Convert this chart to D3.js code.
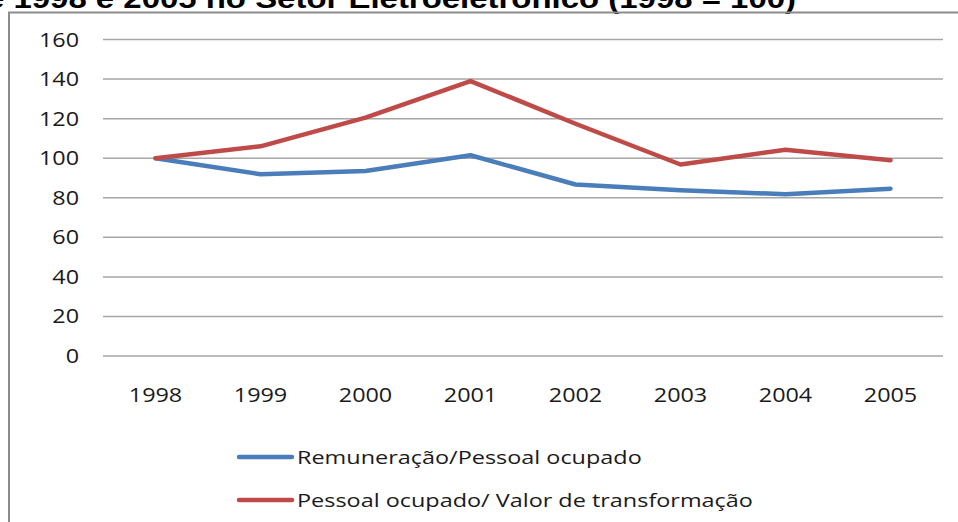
<!DOCTYPE html>
<html>
<head>
<meta charset="utf-8">
<script src="https://cdn.jsdelivr.net/npm/d3@7"></script>
<style>
  body { margin: 0; background: #fff; }
  svg { display: block; }
  .tick-label { font-family: "Open Sans", sans-serif; font-size: 20px; fill: #1a1a1a; }
  .legend-text { font-family: "Open Sans", sans-serif; font-size: 18.6px; fill: #1a1a1a; }
  .title { font-family: "Liberation Sans", Arial, sans-serif; font-size: 27px; font-weight: bold; fill: #000; }
</style>
</head>
<body>
<div id="chart"></div>
<script>
var years = ['1998', '1999', '2000', '2001', '2002', '2003', '2004', '2005'];
var remuneracao = [100, 91.9, 93.5, 101.5, 86.7, 83.8, 81.8, 84.6];
var valorTransf = [100, 106, 120.5, 139, 117.4, 96.8, 104.3, 99];
var yTicks = [0, 20, 40, 60, 80, 100, 120, 140, 160];
var seriesNames = ['Remuneração/Pessoal ocupado', 'Pessoal ocupado/ Valor de transformação'];
var seriesColors = ['#4a7ebb', '#be4b48'];

var svgWidth = 958,
	svgHeight = 522;

var margin = { t: 39.5, l: 103, r: 15 };
var plotBottom = 356;
// the source picture is stretched sideways, so text gets a wider x scale
var stretch = 1.17;

var svg = d3.select('#chart')
	.append('svg')
	.attr('width', svgWidth)
	.attr('height', svgHeight);

// clipped title at the very top
svg.append('text')
	.attr('class', 'title')
	.attr('transform', 'translate(-14,8) scale(1.22,1)')
	.text('e 1998 e 2005 no Setor Eletroeletrônico (1998 = 100)');

// outer frame (left + top)
svg.append('path')
	.attr('d', 'M9,' + svgHeight + ' V12.5 H' + svgWidth)
	.attr('fill', 'none')
	.attr('stroke', '#8c8c8c')
	.attr('stroke-width', 2);

var xScale = d3.scaleBand()
	.domain(years)
	.range([margin.l, svgWidth - margin.r]);

var yScale = d3.scaleLinear()
	.domain([0, 160])
	.range([plotBottom, margin.t]);

// gridlines
svg.append('g')
	.selectAll('line')
	.data(yTicks)
	.enter()
	.append('line')
	.attr('x1', margin.l)
	.attr('x2', svgWidth - margin.r)
	.attr('y1', d => yScale(d))
	.attr('y2', d => yScale(d))
	.attr('stroke', '#a6a6a6')
	.attr('stroke-width', 1.5);

// y labels
svg.append('g')
	.selectAll('text')
	.data(yTicks)
	.enter()
	.append('text')
	.attr('class', 'tick-label')
	.attr('transform', d => `translate(79,${yScale(d)}) scale(${stretch},1)`)
	.attr('dy', '0.35em')
	.attr('text-anchor', 'end')
	.text(d => d);

// x labels
svg.append('g')
	.selectAll('text')
	.data(years)
	.enter()
	.append('text')
	.attr('class', 'tick-label')
	.attr('transform', d => `translate(${xScale(d) + xScale.bandwidth() / 2},394.5) scale(${stretch},1)`)
	.attr('dy', '0.35em')
	.attr('text-anchor', 'middle')
	.text(d => d);

var line = d3.line()
	.x((d, i) => xScale(years[i]) + xScale.bandwidth() / 2)
	.y(d => yScale(d));

[remuneracao, valorTransf].forEach((s, i) => {
	svg.append('path')
		.datum(s)
		.attr('d', line)
		.attr('fill', 'none')
		.attr('stroke', seriesColors[i])
		.attr('stroke-width', 4.5)
		.attr('stroke-linejoin', 'round')
		.attr('stroke-linecap', 'round');
});

// legend
var legend = svg.append('g');
seriesNames.forEach((name, i) => {
	var ly = 457 + i * 43;
	legend.append('line')
		.attr('x1', 239).attr('x2', 292)
		.attr('y1', ly).attr('y2', ly)
		.attr('stroke', seriesColors[i])
		.attr('stroke-width', 4.5)
		.attr('stroke-linecap', 'round');
	legend.append('text')
		.attr('class', 'legend-text')
		.attr('transform', `translate(297,${ly}) scale(1.26,1)`)
		.attr('dy', '0.35em')
		.text(name);
});
</script>
</body>
</html>
